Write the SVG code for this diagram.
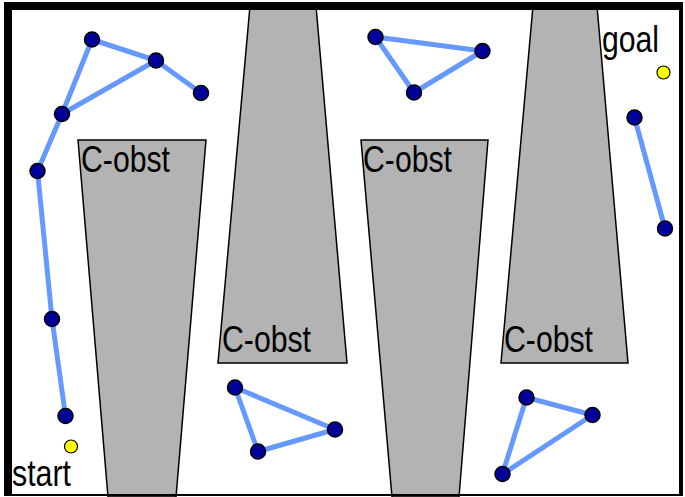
<svg xmlns="http://www.w3.org/2000/svg" width="685" height="497" viewBox="0 0 685 497">
<style>
.obst{fill:#b3b3b3;stroke:#000;stroke-width:1.5;stroke-linejoin:miter}
.edge{stroke:#6699ff;stroke-width:5;stroke-linecap:butt;fill:none}
.node{fill:#000099;stroke:#000;stroke-width:1.5}
.pt{fill:#ffff00;stroke:#000;stroke-width:1.2}
.lbl{font-family:"Liberation Sans",Arial,sans-serif;font-size:36px;fill:#000}
</style>
<rect x="0" y="0" width="685" height="497" fill="#fff"/>
<g id="obstacles">
<g id="obst1"><polygon class="obst" points="78,140 206,140 176,497 108,497"/></g>
<g id="obst2"><polygon class="obst" points="250,6 316,6 347,363 218,363"/></g>
<g id="obst3"><polygon class="obst" points="361,140 488,140 459,497 392,497"/></g>
<g id="obst4"><polygon class="obst" points="533,6 597,6 628,363 501,363"/></g>
</g>
<path id="frame" fill="#000" fill-rule="evenodd" d="M4,2 H683 V496 H4 Z M12,10 V494 H679 V10 Z"/>
<g id="connectors">
<line class="edge" x1="92" y1="39.5" x2="156" y2="60.5"/>
<line class="edge" x1="156" y1="60.5" x2="201" y2="93"/>
<line class="edge" x1="156" y1="60.5" x2="62" y2="114"/>
<line class="edge" x1="92" y1="39.5" x2="62" y2="114"/>
<line class="edge" x1="62" y1="114" x2="37.5" y2="171"/>
<line class="edge" x1="37.5" y1="171" x2="52" y2="319"/>
<line class="edge" x1="52" y1="319" x2="65.5" y2="416"/>
<line class="edge" x1="235" y1="387.5" x2="335" y2="429.5"/>
<line class="edge" x1="335" y1="429.5" x2="258" y2="451.5"/>
<line class="edge" x1="258" y1="451.5" x2="235" y2="387.5"/>
<line class="edge" x1="375.5" y1="37" x2="482.5" y2="51"/>
<line class="edge" x1="482.5" y1="51" x2="414" y2="92.5"/>
<line class="edge" x1="414" y1="92.5" x2="375.5" y2="37"/>
<line class="edge" x1="634.5" y1="117.5" x2="665" y2="228.5"/>
<line class="edge" x1="526.5" y1="397.5" x2="592.5" y2="415"/>
<line class="edge" x1="592.5" y1="415" x2="502.5" y2="474"/>
<line class="edge" x1="502.5" y1="474" x2="526.5" y2="397.5"/>
</g>
<g id="nodes">
<g id="n1"><circle class="node" cx="92" cy="39.5" r="7.5"/></g>
<g id="n2"><circle class="node" cx="156" cy="60.5" r="7.5"/></g>
<g id="n3"><circle class="node" cx="201" cy="93" r="7.5"/></g>
<g id="n4"><circle class="node" cx="62" cy="114" r="7.5"/></g>
<g id="n5"><circle class="node" cx="37.5" cy="171" r="7.5"/></g>
<g id="n6"><circle class="node" cx="52" cy="319" r="7.5"/></g>
<g id="n7"><circle class="node" cx="65.5" cy="416" r="7.5"/></g>
<g id="n8"><circle class="node" cx="235" cy="387.5" r="7.5"/></g>
<g id="n9"><circle class="node" cx="335" cy="429.5" r="7.5"/></g>
<g id="n10"><circle class="node" cx="258" cy="451.5" r="7.5"/></g>
<g id="n11"><circle class="node" cx="375.5" cy="37" r="7.5"/></g>
<g id="n12"><circle class="node" cx="482.5" cy="51" r="7.5"/></g>
<g id="n13"><circle class="node" cx="414" cy="92.5" r="7.5"/></g>
<g id="n14"><circle class="node" cx="634.5" cy="117.5" r="7.5"/></g>
<g id="n15"><circle class="node" cx="665" cy="228.5" r="7.5"/></g>
<g id="n16"><circle class="node" cx="526.5" cy="397.5" r="7.5"/></g>
<g id="n17"><circle class="node" cx="592.5" cy="415" r="7.5"/></g>
<g id="n18"><circle class="node" cx="502.5" cy="474" r="7.5"/></g>
<g id="start"><circle class="pt" cx="71" cy="446.5" r="6.5"/><text class="lbl" x="12" y="486" textLength="59" lengthAdjust="spacingAndGlyphs">start</text></g>
<g id="goal"><circle class="pt" cx="663.5" cy="72.5" r="6.5"/><text class="lbl" x="602" y="52" textLength="57" lengthAdjust="spacingAndGlyphs">goal</text></g>
</g>
<g id="labels">
<text class="lbl" x="81" y="172" textLength="89" lengthAdjust="spacingAndGlyphs">C-obst</text>
<text class="lbl" x="222" y="352" textLength="89" lengthAdjust="spacingAndGlyphs">C-obst</text>
<text class="lbl" x="363" y="172" textLength="89" lengthAdjust="spacingAndGlyphs">C-obst</text>
<text class="lbl" x="504" y="352" textLength="89" lengthAdjust="spacingAndGlyphs">C-obst</text>
</g>
</svg>
